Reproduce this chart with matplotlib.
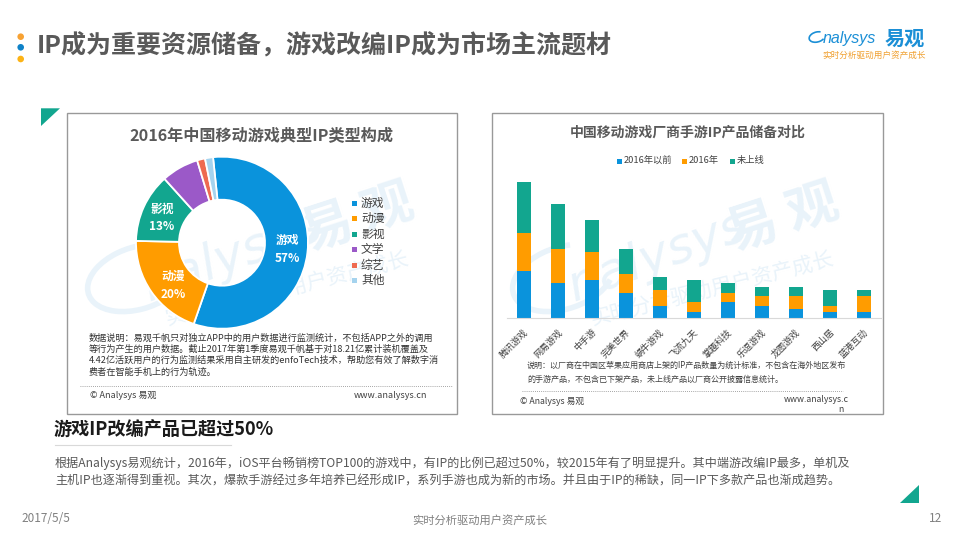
# -*- coding: utf-8 -*-
import matplotlib
matplotlib.use("Agg")
import numpy as np
import matplotlib.pyplot as plt
from matplotlib.patches import Rectangle, Polygon, Circle, Arc
from matplotlib.transforms import ScaledTranslation

plt.rcParams["font.family"] = ["Noto Sans CJK SC", "DejaVu Sans"]
plt.rcParams["axes.unicode_minus"] = False

# 数据
pie_labels = ["游戏", "动漫", "影视", "文学", "综艺", "其他"]
pie_values = [57, 20, 13, 7, 1.5, 1.5]
pie_colors = ["#0A93DC", "#FF9C00", "#12A68F", "#9B59C8", "#EE6A50", "#A5D3EE"]

vendors = ["腾讯游戏", "网易游戏", "中手游", "完美世界", "蜗牛游戏", "飞流九天",
           "掌趣科技", "乐逗游戏", "龙图游戏", "西山居", "蓝港互动"]
before_2016 = [15, 11, 12, 8, 4, 2, 5, 4, 3, 2, 2]
in_2016 = [12, 11, 9, 6, 5, 3, 3, 3, 4, 2, 5]
not_online = [16, 14, 10, 8, 4, 7, 3, 3, 3, 5, 2]
bar_series = ["2016年以前", "2016年", "未上线"]
bar_colors = ["#0A93DC", "#FF9C00", "#12A68F"]

page_title = "IP成为重要资源储备，游戏改编IP成为市场主流题材"
left_title = "2016年中国移动游戏典型IP类型构成"
right_title = "中国移动游戏厂商手游IP产品储备对比"
left_note = ["数据说明：易观千帆只对独立APP中的用户数据进行监测统计，不包括APP之外的调用",
             "等行为产生的用户数据。截止2017年第1季度易观千帆基于对18.21亿累计装机覆盖及",
             "4.42亿活跃用户的行为监测结果采用自主研发的enfoTech技术，帮助您有效了解数字消",
             "费者在智能手机上的行为轨迹。"]
right_note = ["说明：以厂商在中国区苹果应用商店上架的IP产品数量为统计标准，不包含在海外地区发布",
              "的手游产品，不包含已下架产品，未上线产品以厂商公开披露信息统计。"]
sub_title = "游戏IP改编产品已超过50%"
body_text = ["根据Analysys易观统计，2016年，iOS平台畅销榜TOP100的游戏中，有IP的比例已超过50%，较2015年有了明显提升。其中端游改编IP最多，单机及",
             "主机IP也逐渐得到重视。其次，爆款手游经过多年培养已经形成IP，系列手游也成为新的市场。并且由于IP的稀缺，同一IP下多款产品也渐成趋势。"]

TEAL = "#12A68F"
GRAY = "#595959"
WM = "#E9F3FA"

fig = plt.figure(figsize=(9.6, 5.4), dpi=100, facecolor="white")

# 整页用像素坐标的底层坐标轴
bg = fig.add_axes([0, 0, 1, 1], zorder=0)
bg.set_xlim(0, 960)
bg.set_ylim(540, 0)
bg.axis("off")


def inset(x0, y0, x1, y1):
    # y0 上边, y1 下边 (像素)
    ax = fig.add_axes([x0 / 960, 1 - y1 / 540, (x1 - x0) / 960, (y1 - y0) / 540], zorder=2)
    ax.patch.set_alpha(0)
    return ax


def watermark(dx, dy):
    bg.add_patch(Arc((138 + dx, 278 + dy), 104, 62, angle=-18, theta1=20, theta2=300,
                     color=WM, lw=4, zorder=2))
    bg.text(232 + dx, 256 + dy, "nalysys", fontsize=36, color=WM, rotation=20,
            ha="center", va="center", style="italic", zorder=2, family=["DejaVu Sans"])
    bg.text(358 + dx, 219 + dy, "易 观", fontsize=37, color=WM, rotation=18, fontweight="bold",
            ha="center", va="center", zorder=2)
    bg.text(287 + dx, 289 + dy, "实时分析驱动用户资产成长", fontsize=15, color=WM, rotation=14,
            ha="center", va="center", zorder=2)


# 页面标题
for y, c in zip([36.7, 47.3, 59], ["#F7A233", "#0F82C8", "#FCB316"]):
    bg.add_patch(Circle((20.7, y), 3.3, color=c, lw=0))
bg.text(37, 46, page_title, fontsize=18, fontweight="bold", color=GRAY, ha="left", va="center")

# logo
bg.add_patch(Arc((817, 37), 16, 10, angle=-15, theta1=30, theta2=320, color="#1B8FD6", lw=1.2))
bg.text(823, 38, "nalysys", fontsize=11.5, color="#1B8FD6", style="italic", ha="left", va="center",
        family=["Liberation Sans"])
bg.text(885, 38, "易观", fontsize=14.5, color="#1B8FD6", fontweight="bold", ha="left", va="center")
bg.text(874, 55, "实时分析驱动用户资产成长", fontsize=6.2, color="#F0A030", ha="center", va="center")

# 三角装饰
bg.add_patch(Polygon([(41, 108.3), (60, 108.3), (41, 126)], closed=True, color=TEAL, lw=0))
bg.add_patch(Polygon([(919, 485), (919, 503), (899.5, 503)], closed=True, color=TEAL, lw=0))

# 两个面板
for x0, x1 in [(66.5, 457), (492.3, 883)]:
    bg.add_patch(Rectangle((x0, 113), x1 - x0, 301, fc="white", ec="#999999", lw=1, zorder=1))
watermark(0, 0)
watermark(425, 0)

# 左图：环形图
ax_pie = inset(132, 152.7, 312, 332.7)
ax_pie.pie(pie_values, colors=pie_colors, startangle=96, counterclock=False, radius=86 / 90,
           wedgeprops={"width": 43 / 90, "edgecolor": "white", "linewidth": 1.3})
ax_pie.set_xlim(-1, 1)
ax_pie.set_ylim(-1, 1)

# 环上的标签画在环形图坐标轴里，用页面像素定位
for name, pct, x, y in [("游戏", "57%", 287, 240), ("影视", "13%", 162, 209), ("动漫", "20%", 173, 276)]:
    ax_pie.text(x, y, name, fontsize=8.5, color="white", fontweight="bold", ha="center", va="center",
                transform=bg.transData)
    ax_pie.text(x, y + 18, pct, fontsize=8.5, color="white", fontweight="bold", ha="center", va="center",
                transform=bg.transData)

bg.text(261, 136, left_title, fontsize=11.6, fontweight="bold", color=GRAY, ha="center", va="center", zorder=3)

for name, c, y in zip(pie_labels, pie_colors, [203.3, 218.7, 234, 249.7, 265, 280.3]):
    bg.add_patch(Rectangle((352, y - 2.5), 5, 5, color=c, lw=0, zorder=3))
    bg.text(361, y, name, fontsize=8.5, color="#404040", ha="left", va="center", zorder=3)

for line, y in zip(left_note, [338.5, 349.5, 360.5, 372]):
    bg.text(89, y, line, fontsize=6.6, color="#333333", ha="left", va="center", zorder=3)
bg.plot([80, 452], [385.7, 385.7], color="#888888", lw=0.6, ls=(0, (1, 1.5)), zorder=3)
bg.text(90, 395, "© Analysys 易观", fontsize=6.5, color="#404040", ha="left", va="center", zorder=3)
bg.text(354, 395, "www.analysys.cn", fontsize=6.5, color="#404040", ha="left", va="center", zorder=3)

# 右图：堆叠柱状图，1 单位约 3.17 像素
ax_bar = inset(506.7, 168.3, 880.7, 318.3)
idx = np.arange(len(vendors))
bottom = np.zeros(len(vendors))
for vals, name, c in zip([before_2016, in_2016, not_online], bar_series, bar_colors):
    ax_bar.bar(idx, vals, width=0.4, bottom=bottom, color=c, label=name)
    bottom += np.array(vals)
ax_bar.set_xlim(-0.5, 10.5)
ax_bar.set_ylim(0, 150 / 3.17)
for s in ["top", "right", "left"]:
    ax_bar.spines[s].set_visible(False)
ax_bar.spines["bottom"].set_color("#D9D9D9")
ax_bar.set_yticks([])
ax_bar.set_xticks(idx)
ax_bar.set_xticklabels(vendors, rotation=45, ha="right", va="center", rotation_mode="anchor",
                       fontsize=6.5, color="#404040")
ax_bar.tick_params(axis="x", length=0, pad=9)
# 标签整体右移 3 像素
shift = ScaledTranslation(3 / 100, 0, fig.dpi_scale_trans)
for lab in ax_bar.get_xticklabels():
    lab.set_transform(lab.get_transform() + shift)

bg.text(688, 133, right_title, fontsize=10, fontweight="bold", color=GRAY, ha="center", va="center", zorder=3)

for name, c, x in zip(bar_series, bar_colors, [619, 684, 732]):
    bg.add_patch(Rectangle((x - 2.5, 158.5), 5, 5, color=c, lw=0, zorder=3))
    bg.text(x + 5, 161, name, fontsize=6.7, color="#404040", ha="left", va="center", zorder=3)

for line, y in zip(right_note, [365.7, 379]):
    bg.text(527, y, line, fontsize=5.8, color="#404040", ha="left", va="center", zorder=3)
bg.plot([522, 843], [390.7, 390.7], color="#888888", lw=0.6, ls=(0, (1, 1.5)), zorder=3)
bg.text(520, 402, "© Analysys 易观", fontsize=6.3, color="#404040", ha="left", va="center", zorder=3)
bg.text(784, 400, "www.analysys.c", fontsize=6.3, color="#404040", ha="left", va="center", zorder=3)
bg.text(841, 410, "n", fontsize=6.3, color="#404040", ha="center", va="center", zorder=3)

# 下方文字
bg.text(54, 430, sub_title, fontsize=13.1, fontweight="bold", color="#1A1A1A", ha="left", va="center")
bg.plot([55, 231], [445, 445], color="#D9D9D9", lw=0.8)
for line, y in zip(body_text, [463, 481]):
    bg.text(55, y, line, fontsize=8.7, color=GRAY, ha="left", va="center")

bg.text(21, 519, "2017/5/5", fontsize=8.5, color="#808080", ha="left", va="center")
bg.text(480, 520, "实时分析驱动用户资产成长", fontsize=8.1, color="#808080", ha="center", va="center")
bg.text(942, 519, "12", fontsize=8.5, color="#808080", ha="right", va="center")

fig.savefig("out.png", dpi=100)
